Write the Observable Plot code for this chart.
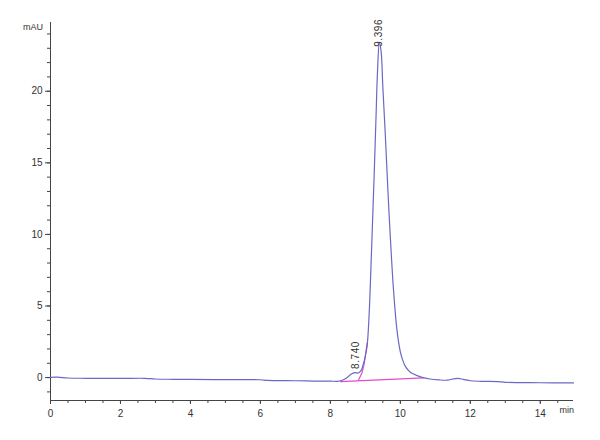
<!DOCTYPE html>
<html>
<head>
<meta charset="utf-8">
<script src="https://cdn.jsdelivr.net/npm/d3@7"></script>
<script src="https://cdn.jsdelivr.net/npm/@observablehq/plot@0.6"></script>
<style>
  html, body { margin: 0; padding: 0; background: #fff; }
  #chart { width: 600px; height: 440px; position: relative; }
  .unit { position: absolute; font-family: "Liberation Sans Narrow", "Arial Narrow", "Liberation Sans", sans-serif; font-size: 9px; color: #333; }
</style>
</head>
<body>
<div id="chart"></div>
<script>
// Chromatogram trace: retention time (min) and signal (mAU)
const times = [0, 0.2, 0.5, 1, 2, 2.7, 3, 3.5, 4, 5, 6, 6.2, 7, 7.5, 8, 8.2, 8.3, 8.45, 8.6, 8.7, 8.8, 8.88, 8.95, 9.0, 9.05, 9.1, 9.15, 9.2, 9.25, 9.3, 9.35, 9.4, 9.45, 9.5, 9.57, 9.65, 9.71, 9.8, 9.9, 10.0, 10.07, 10.14, 10.25, 10.33, 10.5, 10.65, 10.85, 11.1, 11.35, 11.5, 11.65, 11.8, 12.0, 12.3, 12.8, 13.0, 14.0, 14.95];
const signal = [0.02, 0.03, -0.03, -0.05, -0.06, -0.05, -0.1, -0.12, -0.13, -0.14, -0.15, -0.2, -0.22, -0.24, -0.25, -0.26, -0.22, -0.05, 0.25, 0.35, 0.32, 0.5, 1.0, 1.5, 2.2, 4.0, 7.0, 10.5, 14.0, 17.8, 21.5, 23.4, 22.8, 20.3, 17.0, 12.8, 10.0, 6.3, 3.4, 1.8, 1.2, 0.8, 0.45, 0.3, 0.12, 0.0, -0.1, -0.16, -0.18, -0.1, -0.06, -0.12, -0.22, -0.26, -0.28, -0.33, -0.36, -0.37];

// Integration baselines (pink)
const baseTimes = [8.29, 10.66];
const baseSignal = [-0.28, -0.02];
const skimTimes = [8.8, 8.9, 8.97, 9.05];
const skimSignal = [-0.18, 0.3, 1.0, 2.4];

// Peak labels (retention times and the height at which each label starts)
const peakTimes = [8.74, 9.396];
const labelHeights = [0.6, 23.1];
const peakLabels = ["8.740", "9.396"];

const yMajor = [0, 5, 10, 15, 20];
const yMinor = d3.range(-1, 25, 1);
const xMajor = [0, 2, 4, 6, 8, 10, 12, 14];
const xMinor = d3.range(0, 15, 0.5);

const trace = times.map((t, i) => ({t, v: signal[i]}));
const pink = [
  ...baseTimes.map((t, i) => ({t, v: baseSignal[i], s: "base"})),
  ...skimTimes.map((t, i) => ({t, v: skimSignal[i], s: "skim"}))
];
const peaks = peakTimes.map((t, i) => ({t, v: labelHeights[i], label: peakLabels[i]}));

const font = '"Liberation Sans Narrow", "Arial Narrow", "Liberation Sans", sans-serif';
const axisColor = "#444";

const chart = Plot.plot({
  width: 600,
  height: 440,
  marginLeft: 50,
  marginRight: 27,
  marginTop: 22,
  marginBottom: 40,
  style: {fontFamily: font, fontSize: "10px", color: "#333", background: "white"},
  x: {domain: [0, 14.95]},
  y: {domain: [-1.6, 24.8]},
  marks: [
    Plot.ruleX([0], {stroke: axisColor, strokeWidth: 1}),
    Plot.ruleY([-1.6], {stroke: axisColor, strokeWidth: 1}),
    Plot.axisY({ticks: yMinor, tickSize: 3, text: null, stroke: axisColor, label: null}),
    Plot.axisY({ticks: yMajor, tickSize: 5, tickPadding: 3, stroke: axisColor, fill: "#333", label: null, tickFormat: d => d}),
    Plot.axisX({ticks: xMinor, tickSize: 3, text: null, stroke: axisColor, label: null}),
    Plot.axisX({ticks: xMajor, tickSize: 4, tickPadding: 5, stroke: axisColor, fill: "#333", label: null, tickFormat: d => d}),
    Plot.line(pink, {x: "t", y: "v", z: "s", stroke: "#e04fc8", strokeWidth: 1.2}),
    Plot.line(trace, {x: "t", y: "v", stroke: "#6a68c4", strokeWidth: 1.2, curve: "catmull-rom"}),
    Plot.text(peaks, {x: "t", y: "v", text: "label", rotate: -90, textAnchor: "start", fontSize: 10, fill: "#333", style: "letter-spacing:0.5px"})
  ]
});
chart.querySelectorAll("text").forEach(n => {
  if (n.textContent === "8.740" || n.textContent === "9.396") n.setAttribute("letter-spacing", "0.6");
});
document.getElementById("chart").appendChild(chart);

// unit labels
const mau = document.createElement("div");
mau.className = "unit";
mau.textContent = "mAU";
mau.style.right = (600 - 43) + "px";
mau.style.top = "22px";
document.getElementById("chart").appendChild(mau);
const mn = document.createElement("div");
mn.className = "unit";
mn.textContent = "min";
mn.style.right = (600 - 574) + "px";
mn.style.top = "405px";
document.getElementById("chart").appendChild(mn);
</script>
</body>
</html>
